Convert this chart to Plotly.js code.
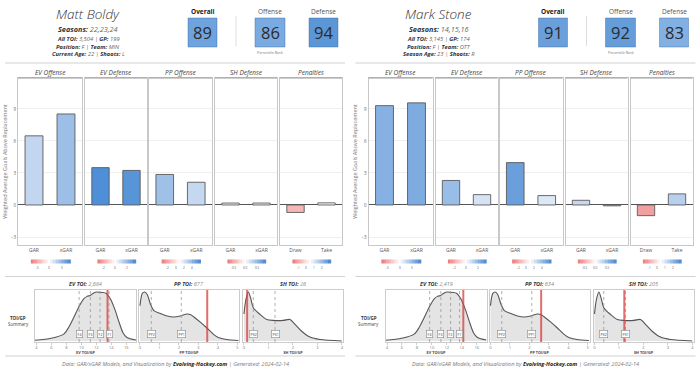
<!DOCTYPE html>
<html><head><meta charset="utf-8">
<script src="https://cdn.plot.ly/plotly-3.0.1.min.js"></script>
<style>html,body{margin:0;padding:0;background:#fff}#chart{width:700px;height:371px}</style>
</head><body><div id="chart"></div>
<script>
const W = 700, H = 371;

// ---------- DATA ----------
const playerNames = ["Matt Boldy", "Mark Stone"];
const seasons = ["22,23,24", "14,15,16"];
const allTOI = ["3,504", "3,145"];
const gamesPlayed = ["199", "174"];
const positions = ["F", "F"];
const teams = ["MIN", "OTT"];
const ageLabels = ["Current Age", "Season Age"];
const ages = ["22", "23"];
const shoots = ["L", "R"];

const rankLabels = ["Overall", "Offense", "Defense"];
const percentileRanks = [[89, 86, 94], [91, 92, 83]];
const rankColors = [["#6ea3dd", "#79aae0", "#5b96d7"], ["#6a9fdb", "#659cda", "#82b0e3"]];

const facetNames = ["EV Offense", "EV Defense", "PP Offense", "SH Defense", "Penalties"];
const barCategories = [["GAR", "xGAR"], ["GAR", "xGAR"], ["GAR", "xGAR"], ["GAR", "xGAR"], ["Draw", "Take"]];
const boldyValues = [[6.48, 8.53], [3.5, 3.24], [2.86, 2.13], [0.18, 0.18], [-0.7, 0.2]];
const stoneValues = [[9.31, 9.57], [2.3, 0.97], [3.97, 0.88], [0.44, -0.08], [-1.0, 1.04]];
const boldyColors = [["#c2d6f0", "#9dbfe7"], ["#4e8fd7", "#5895d8"], ["#9fc0e7", "#c5d8f0"], ["#f3f6fb", "#f3f6fb"], ["#f5b6b6", "#fafafa"]];
const stoneColors = [["#86b1e2", "#7eabe0"], ["#98bde7", "#d5e3f4"], ["#6a9fdb", "#dce8f6"], ["#c7d9ef", "#e6e6e6"], ["#f0a0a0", "#b8d0ee"]];
const yTicks = [-3, 0, 3, 6, 9];
const legendTicks = [["-5", "0", "5"], ["-2", "0", "2"], ["-2", "0", "2", "4"], ["-0.5", "0.0", "0.5"], ["-1", "0", "1", "2"]];

const toiTitles = ["EV TOI:", "PP TOI:", "SH TOI:"];
const toiTotals = [["2,684", "677", "26"], ["2,419", "634", "205"]];
const toiAxisTitles = ["EV TOI/GP", "PP TOI/GP", "SH TOI/GP"];
const playerTOIGP = [[13.49, 3.45, 0.13], [14.2, 2.6, 1.22]];

const evX = [3.8, 5.96, 7.64, 8.31, 8.98, 9.64, 10.31, 10.76, 11.2, 11.64, 12.09, 12.76, 13.33, 13.87, 14.53, 14.98, 15.56, 16.09, 17.3];
const evY = [0.015, 0.055, 0.14, 0.28, 0.48, 0.69, 0.86, 0.91, 0.93, 0.98, 1.0, 0.99, 0.97, 0.86, 0.62, 0.41, 0.17, 0.07, 0.02];
const ppX = [0, 0.12, 0.24, 0.37, 0.54, 0.71, 1.05, 1.39, 1.73, 2.07, 2.41, 2.58, 2.83, 3.08, 3.42, 3.76, 4.02, 4.44, 5.05];
const ppY = [0.72, 0.97, 1.0, 0.95, 0.75, 0.62, 0.56, 0.51, 0.49, 0.51, 0.55, 0.54, 0.47, 0.39, 0.27, 0.14, 0.07, 0.03, 0.01];
const shX = [0, 0.08, 0.18, 0.27, 0.38, 0.66, 0.93, 1.2, 1.61, 1.88, 2.09, 2.36, 2.7, 3.11, 4.0];
const shY = [0.55, 0.85, 1.0, 0.88, 0.68, 0.54, 0.44, 0.42, 0.42, 0.44, 0.34, 0.2, 0.08, 0.03, 0.0];
const densX = [evX, ppX, shX];
const densY = [evY, ppY, shY];
const densRanges = [[3.8, 17.3], [-0.05, 5.08], [-0.04, 4.05]];
const densTicks = [[4, 6, 8, 10, 12, 14, 16], [0, 1, 2, 3, 4, 5], [0, 1, 2, 3, 4]];
const quantiles = [[9.7, 11.2, 12.5, 13.7], [0.58, 2.12], [0.38, 1.27]];
const quantLabels = [["F4", "F3", "F2", "F1"], ["PP2", "PP1"], ["PK2", "PK1"]];

// ---------- LAYOUT HELPERS ----------
const facetPx = [[18, 82], [85, 147], [149, 212], [215, 277], [280, 342]];
const densPx = [[35, 136], [139, 239], [243, 343]];
const boxPx = [[188, 217], [255, 285], [309, 338]];
const px = x => x / W;
const py = y => 1 - y / H;
const axName = n => (n === 1 ? '' : String(n));
const FONT = "Open Sans, Noto Sans, sans-serif";

const traces = [], shapes = [], annotations = [];
const layout = {
  width: W, height: H, margin: {l: 0, r: 0, t: 0, b: 0},
  paper_bgcolor: '#fff', plot_bgcolor: 'rgba(0,0,0,0)',
  showlegend: false, font: {family: FONT, color: '#333'}
};

function ann(x, y, text, size, color, extra) {
  annotations.push(Object.assign({xref: 'paper', yref: 'paper', x: px(x), y: py(y), text: text,
    showarrow: false, xanchor: 'center', yanchor: 'middle', font: {size: size, color: color, family: FONT}}, extra || {}));
}
function hline(x0, x1, y, color, width) {
  shapes.push({type: 'line', xref: 'paper', yref: 'paper', x0: px(x0), x1: px(x1), y0: py(y), y1: py(y), line: {color: color, width: width}});
}
function mix(a, b, t) {
  return 'rgb(' + a.map((v, i) => Math.round(v + (b[i] - v) * t)).join(',') + ')';
}

const allValues = [boldyValues, stoneValues];
const allColors = [boldyColors, stoneColors];

for (let h = 0; h < 2; h++) {
  const ox = h * 350.5;

  // ---- header ----
  ann(88 + ox, 14, '<i>' + playerNames[h] + '</i>', 13.5, '#333', {font: {size: 13.5, color: '#333', family: FONT, weight: 300}});
  ann(88 + ox, 28.5, '<b><i>Seasons:</i></b><span style="color:#666"><i> ' + seasons[h] + '</i></span>', 7.3, '#333');
  ann(88 + ox, 39, '<b><i>All TOI:</i></b><span style="color:#666"><i> ' + allTOI[h] + ' | </i></span><b><i>GP:</i></b><span style="color:#666"><i> ' + gamesPlayed[h] + '</i></span>', 5.8, '#333');
  ann(88 + ox, 46.5, '<b><i>Position:</i></b><span style="color:#666"><i> ' + positions[h] + ' | </i></span><b><i>Team:</i></b><span style="color:#666"><i> ' + teams[h] + '</i></span>', 5.8, '#333');
  ann(88 + ox, 54, '<b><i>' + ageLabels[h] + ':</i></b><span style="color:#666"><i> ' + ages[h] + ' | </i></span><b><i>Shoots:</i></b><span style="color:#666"><i> ' + shoots[h] + '</i></span>', 5.8, '#333');

  for (let k = 0; k < 3; k++) {
    const [bl, br] = boxPx[k];
    shapes.push({type: 'rect', xref: 'paper', yref: 'paper', x0: px(bl + ox), x1: px(br + ox), y0: py(47), y1: py(18),
      fillcolor: rankColors[h][k], line: {color: 'rgba(60,105,160,0.55)', width: 0.8}});
    ann((bl + br) / 2 + ox, 32.5, String(percentileRanks[h][k]), 16.5, '#2b2b2b');
    ann((bl + br) / 2 + ox, 11.5, k === 0 ? '<b>' + rankLabels[k] + '</b>' : rankLabels[k], 6.5, k === 0 ? '#222' : '#555');
  }
  shapes.push({type: 'line', xref: 'paper', yref: 'paper', x0: px(236 + ox), x1: px(236 + ox), y0: py(46), y1: py(16), line: {color: '#dddddd', width: 1}});
  ann(270 + ox, 53, 'Percentile Rank', 3.6, '#777');

  // separators
  hline(5 + ox, 345 + ox, 63, '#d2d2d2', 1.2);
  hline(5 + ox, 345 + ox, 276.5, '#d2d2d2', 1.2);
  hline(5 + ox, 345 + ox, 356, '#d2d2d2', 1.2);

  // ---- bar facets ----
  for (let i = 0; i < 5; i++) {
    const n = h * 8 + i + 1, s = axName(n);
    const [l, r] = facetPx[i];
    const L = l + ox, R = r + ox, w = r - l;
    layout['xaxis' + s] = {domain: [px(L), px(R)], anchor: 'y' + s, type: 'category',
      categoryorder: 'array', categoryarray: barCategories[i], range: [-0.5, 1.5],
      showgrid: false, zeroline: false, showline: true, mirror: true, linecolor: '#c8c8c8', linewidth: 1,
      ticks: '', tickfont: {size: 5, color: '#555', family: FONT}, fixedrange: true};
    layout['yaxis' + s] = {domain: [py(245), py(78)], anchor: 'x' + s, range: [-3.75, 11.9],
      tickvals: yTicks, showticklabels: i === 0, tickfont: {size: 4.5, color: '#666', family: FONT},
      gridcolor: '#efefef', gridwidth: 1, zeroline: true, zerolinecolor: '#555', zerolinewidth: 1,
      showline: true, mirror: true, linecolor: '#c8c8c8', linewidth: 1, ticks: '', fixedrange: true};
    if (i === 0) {
      layout['yaxis' + s].title = {text: 'Weighted Average Goals Above Replacement', font: {size: 5.5, color: '#777', family: FONT}, standoff: 3};
    }
    traces.push({type: 'bar', x: barCategories[i], y: allValues[h][i], xaxis: 'x' + s, yaxis: 'y' + s,
      width: 0.56, marker: {color: allColors[h][i], line: {color: '#5a5a5a', width: 0.9}}, hoverinfo: 'skip'});
    ann((L + R) / 2, 72, '<i>' + facetNames[i] + '</i>', 6.5, '#444');
    hline(L, R, 78, '#9a9a9a', 1);

    // gradient legend
    const steps = 7;
    const rs = L + 0.2 * w, re = L + 0.47 * w, bs = L + 0.5 * w, be = L + 0.82 * w;
    for (let t = 0; t < steps; t++) {
      const a0 = rs + (re - rs) * t / steps, a1 = rs + (re - rs) * (t + 1) / steps;
      shapes.push({type: 'rect', xref: 'paper', yref: 'paper', x0: px(a0), x1: px(a1) + 0.0005, y0: py(263.5), y1: py(259.5),
        fillcolor: mix([238, 128, 128], [252, 238, 238], t / (steps - 1)), line: {width: 0}});
      const b0 = bs + (be - bs) * t / steps, b1 = bs + (be - bs) * (t + 1) / steps;
      shapes.push({type: 'rect', xref: 'paper', yref: 'paper', x0: px(b0), x1: px(b1) + 0.0005, y0: py(263.5), y1: py(259.5),
        fillcolor: mix([232, 240, 250], [84, 141, 210], t / (steps - 1)), line: {width: 0}});
    }
    const lt = legendTicks[i];
    lt.forEach((tk, k) => {
      const x = L + w * (0.3 + 0.38 * k / (lt.length - 1));
      ann(x, 268, tk, 3, '#555');
    });
  }

  // ---- density panels ----
  ann(18 + ox, 318, '<b>TOI/GP</b>', 4.5, '#333');
  ann(18 + ox, 324, 'Summary', 4.5, '#444');
  for (let j = 0; j < 3; j++) {
    const n = h * 8 + 6 + j, s = axName(n);
    const [l, r] = densPx[j];
    const L = l + ox, R = r + ox;
    layout['xaxis' + s] = {domain: [px(L), px(R)], anchor: 'y' + s, range: densRanges[j], tickvals: densTicks[j],
      tickfont: {size: 4, color: '#777', family: FONT}, showgrid: false, zeroline: false,
      showline: true, mirror: true, linecolor: '#cccccc', linewidth: 1, ticks: 'outside', ticklen: 1.5, tickcolor: '#cccccc',
      title: {text: '<b>' + toiAxisTitles[j] + '</b>', font: {size: 3.8, color: '#444', family: FONT}, standoff: 1}, fixedrange: true};
    layout['yaxis' + s] = {domain: [py(342), py(290)], anchor: 'x' + s, range: [-0.02, 1.04],
      showticklabels: false, showgrid: false, zeroline: false, showline: true, mirror: true,
      linecolor: '#cccccc', linewidth: 1, ticks: '', fixedrange: true};
    traces.push({type: 'scatter', mode: 'lines', x: densX[j], y: densY[j], xaxis: 'x' + s, yaxis: 'y' + s,
      fill: 'tozeroy', fillcolor: '#e4e4e4', line: {color: '#555', width: 1.1, shape: 'spline', smoothing: 0.8}, hoverinfo: 'skip'});
    quantiles[j].forEach((q, k) => {
      shapes.push({type: 'line', xref: 'x' + s, yref: 'y' + s + ' domain', x0: q, x1: q, y0: 0, y1: 1,
        line: {color: '#999', width: 0.8, dash: 'dot'}});
      annotations.push({xref: 'x' + s, yref: 'y' + s, x: q, y: 0.14, text: quantLabels[j][k], showarrow: false,
        font: {size: 3.5, color: '#333', family: FONT}, bgcolor: '#fff', bordercolor: '#888', borderwidth: 0.6, borderpad: 1});
    });
    shapes.push({type: 'line', xref: 'x' + s, yref: 'y' + s + ' domain', x0: playerTOIGP[h][j], x1: playerTOIGP[h][j], y0: 0, y1: 1,
      line: {color: 'rgba(218,60,60,0.75)', width: 2}});
    ann((L + R) / 2, 284, '<b><i>' + toiTitles[j] + '</i></b><span style="color:#888"><i> ' + toiTotals[h][j] + '</i></span>', 5.5, '#333');
  }

  // footer
  ann(175 + ox, 363.5, '<span style="color:#777"><i>Data: GAR/xGAR Models, and Visualization by </i></span><b><i>Evolving-Hockey.com</i></b><span style="color:#777"><i> | Generated: 2024-02-14</i></span>', 5.5, '#222');
}

layout.shapes = shapes;
layout.annotations = annotations;
Plotly.newPlot('chart', traces, layout, {staticPlot: true, displayModeBar: false});
</script>
</body></html>
